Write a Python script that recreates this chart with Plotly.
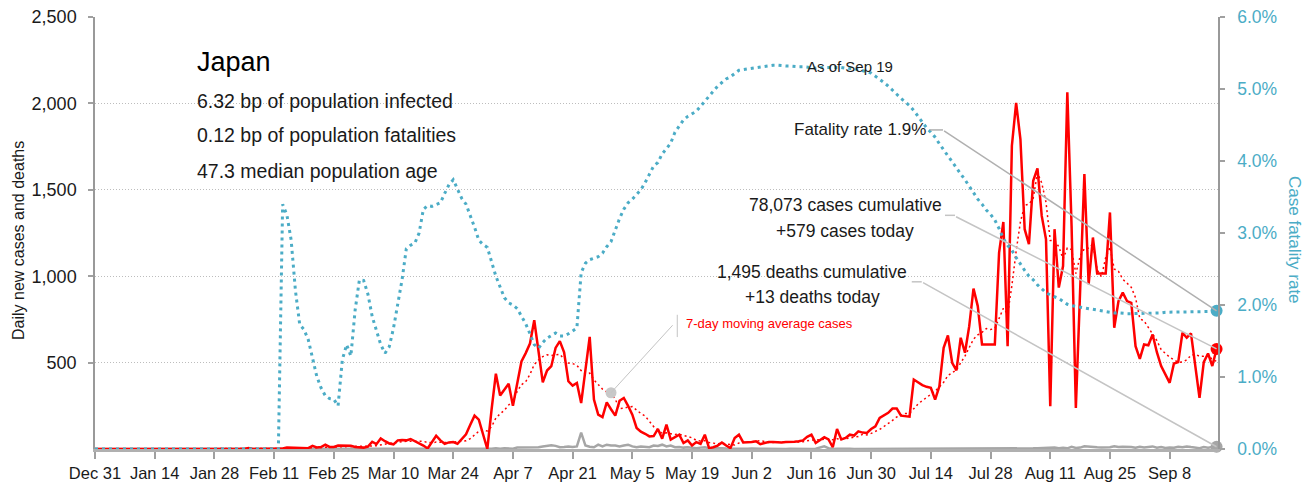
import pandas as pd
import plotly.graph_objects as go

start_date = "2019-12-31"

# ---------------- daily new cases ----------------
cases_dec_jan = [0,
                 0, 0, 0, 0, 0, 0, 0, 0, 0, 0,
                 0, 0, 0, 0, 0, 1, 0, 0, 0, 0,
                 0, 0, 0, 1, 1, 0, 0, 2, 1, 3,
                 4]
cases_feb = [2, 0, 0, 0, 5, 0, 0, 0, 0, 0,
             1, 0, 3, 8, 8, 5, 7, 7, 5, 18,
             9, 11, 25, 12, 12, 20, 20, 21, 19]
cases_mar = [12, 10, 8, 14, 42, 28, 61, 45, 32, 27,
             50, 52, 50, 58, 45, 36, 20, 3, 40, 77,
             50, 30, 38, 40, 30, 60, 85, 140, 193, 170,
             85]
cases_apr = [0, 230, 436, 309, 345, 378, 250, 380, 507, 555,
             610, 745, 560, 386, 454, 479, 585, 624, 560, 392,
             367, 382, 266, 460, 649, 286, 199, 185, 270, 230]
cases_may = [193, 279, 295, 250, 199, 122, 100, 88, 73, 75,
             116, 60, 141, 54, 70, 83, 35, 50, 20, 40,
             30, 83, 5, 10, 20, 38, 20, 5, 64, 83,
             38]
cases_jun = [38, 40, 45, 28, 35, 40, 40, 38, 38, 40,
             40, 42, 45, 50, 70, 83, 35, 50, 68, 55,
             10, 116, 55, 64, 83, 78, 102, 95, 93, 116]
cases_jul = [131, 180, 195, 209, 234, 234, 193, 190, 187, 402,
             385, 370, 360, 354, 286, 363, 586, 657, 499, 455,
             644, 557, 711, 928, 827, 605, 605, 605, 605, 1137,
             1314]
cases_aug = [595, 1755, 2003, 1794, 1272, 1185, 1552, 1624, 1349, 1214,
             247, 1272, 934, 1059, 2065, 1291, 238, 943, 1591, 953,
             1224, 1015, 1015, 1015, 1369, 702, 856, 905, 856, 846,
             595]
cases_sep = [522, 605, 600, 663, 560, 480, 430, 383, 495, 503,
             673, 644, 669, 474, 296, 503, 553, 480, 579]

# ---------------- daily new deaths ----------------
deaths_dec_jan = [0,
                  0, 0, 0, 0, 0, 0, 0, 0, 0, 0,
                  0, 0, 0, 0, 0, 0, 0, 0, 0, 0,
                  0, 0, 0, 0, 0, 0, 0, 0, 0, 0,
                  0]
deaths_feb = [0, 0, 0, 0, 0, 0, 0, 0, 0, 0,
              0, 0, 1, 0, 0, 0, 0, 0, 1, 0,
              0, 0, 0, 0, 1, 0, 1, 0, 1]
deaths_mar = [0, 1, 1, 0, 1, 0, 1, 0, 1, 2,
              2, 1, 0, 3, 2, 0, 3, 1, 3, 2,
              1, 2, 1, 1, 1, 1, 3, 0, 2, 3,
              4]
deaths_apr = [0, 2, 5, 2, 4, 3, 2, 8, 9, 10,
              7, 10, 10, 15, 20, 22, 18, 10, 12, 15,
              12, 15, 95, 20, 13, 10, 25, 15, 25, 20]
deaths_may = [20, 15, 20, 25, 15, 10, 15, 12, 10, 20,
              18, 25, 15, 20, 10, 12, 8, 10, 8, 5,
              8, 10, 5, 6, 5, 4, 3, 2, 5, 2,
              3]
deaths_jun = [2, 3, 0, 1, 2, 1, 1, 2, 1, 0,
              1, 0, 2, 0, 1, 0, 2, 8, 15, 5,
              0, 1, 1, 5, 1, 0, 0, 1, 0, 1]
deaths_jul = [0, 0, 1, 0, 1, 0, 1, 0, 0, 1,
              0, 0, 2, 0, 1, 1, 0, 1, 0, 2,
              0, 1, 0, 0, 1, 0, 0, 0, 1, 0,
              2]
deaths_aug = [1, 0, 0, 4, 4, 1, 4, 5, 6, 3,
              4, 9, 5, 7, 4, 13, 6, 8, 16, 13,
              12, 10, 9, 8, 10, 16, 11, 13, 13, 12,
              7]
deaths_sep = [13, 9, 13, 15, 8, 11, 6, 9, 7, 13,
              10, 15, 11, 9, 5, 11, 8, 11, 13]

# ---------------- case fatality rate (%) ----------------
cfr_dec_jan = [0,
               0, 0, 0, 0, 0, 0, 0, 0, 0, 0,
               0, 0, 0, 0, 0, 0, 0, 0, 0, 0,
               0, 0, 0, 0, 0, 0, 0, 0, 0, 0,
               0]
cfr_feb = [0, 0, 0, 0, 0, 0, 0, 0, 0, 0,
           0, 0, 3.40, 3.25, 2.90, 2.20, 1.73, 1.66, 1.52, 1.25,
           1.01, 0.85, 0.74, 0.70, 0.69, 0.60, 1.24, 1.45, 1.29]
cfr_mar = [1.93, 2.35, 2.34, 2.15, 1.84, 1.65, 1.45, 1.33, 1.42, 1.68,
           2.00, 2.35, 2.78, 2.83, 2.86, 3.00, 3.33, 3.38, 3.37, 3.40,
           3.42, 3.55, 3.67, 3.74, 3.60, 3.48, 3.40, 3.25, 3.08, 2.90,
           2.84]
cfr_apr = [2.80, 2.60, 2.40, 2.25, 2.10, 2.03, 2.00, 1.95, 1.84, 1.74,
           1.60, 1.45, 1.40, 1.48, 1.54, 1.57, 1.61, 1.57, 1.57, 1.60,
           1.64, 1.68, 2.45, 2.58, 2.63, 2.65, 2.67, 2.72, 2.81, 2.88]
cfr_may = [3.05, 3.20, 3.33, 3.42, 3.47, 3.53, 3.60, 3.70, 3.82, 3.93,
           3.98, 4.10, 4.17, 4.25, 4.40, 4.49, 4.57, 4.62, 4.65, 4.69,
           4.76, 4.83, 4.89, 4.97, 5.04, 5.09, 5.14, 5.17, 5.22, 5.26,
           5.27]
cfr_jun = [5.28, 5.29, 5.30, 5.31, 5.32, 5.33, 5.33, 5.33, 5.32, 5.32,
           5.32, 5.31, 5.31, 5.31, 5.30, 5.30, 5.29, 5.30, 5.30, 5.31,
           5.31, 5.30, 5.30, 5.29, 5.29, 5.28, 5.27, 5.26, 5.24, 5.22]
cfr_jul = [5.18, 5.14, 5.09, 5.04, 4.98, 4.92, 4.87, 4.82, 4.77, 4.70,
           4.62, 4.54, 4.46, 4.40, 4.33, 4.24, 4.15, 4.07, 3.99, 3.90,
           3.82, 3.74, 3.65, 3.55, 3.47, 3.40, 3.32, 3.26, 3.18, 3.06,
           2.92]
cfr_aug = [2.83, 2.76, 2.66, 2.56, 2.48, 2.40, 2.35, 2.28, 2.22, 2.17,
           2.14, 2.12, 2.09, 2.05, 2.01, 1.99, 1.98, 1.97, 1.95, 1.94,
           1.93, 1.92, 1.91, 1.90, 1.89, 1.89, 1.89, 1.88, 1.88, 1.88,
           1.88]
cfr_sep = [1.88, 1.89, 1.89, 1.89, 1.89, 1.89, 1.90, 1.90, 1.90, 1.90,
           1.90, 1.90, 1.90, 1.91, 1.91, 1.91, 1.91, 1.91, 1.92]

cases = (cases_dec_jan + cases_feb + cases_mar + cases_apr + cases_may
         + cases_jun + cases_jul + cases_aug + cases_sep)
deaths = (deaths_dec_jan + deaths_feb + deaths_mar + deaths_apr + deaths_may
          + deaths_jun + deaths_jul + deaths_aug + deaths_sep)
cfr = (cfr_dec_jan + cfr_feb + cfr_mar + cfr_apr + cfr_may
       + cfr_jun + cfr_jul + cfr_aug + cfr_sep)

left_ticks = [500, 1000, 1500, 2000, 2500]
right_ticks = [0, 1, 2, 3, 4, 5, 6]
right_ticktext = ["0.0%", "1.0%", "2.0%", "3.0%", "4.0%", "5.0%", "6.0%"]

info_lines = ["6.32 bp of population infected",
              "0.12 bp of population fatalities",
              "47.3 median population age"]
ma_label_date = "2020-04-30"

dates = pd.date_range(start_date, periods=len(cases), freq="D")
ma7 = pd.Series(cases).rolling(7, min_periods=1).mean().tolist()

RED = "#ff0000"
TEAL = "#4bacc6"
GREY = "#a6a6a6"
LEADER = "#c4c4c4"
TXT = "#1a1a1a"
FONT = "Liberation Sans, Arial, sans-serif"

fig = go.Figure()
fig.add_trace(go.Scatter(x=dates, y=cfr, yaxis="y2", mode="lines",
                         line=dict(color=TEAL, width=3, dash="3px,4px")))
fig.add_trace(go.Scatter(x=dates, y=deaths, mode="lines",
                         line=dict(color=GREY, width=2.5)))
fig.add_trace(go.Scatter(x=dates, y=ma7, mode="lines",
                         line=dict(color=RED, width=1.5, dash="2px,3px")))
fig.add_trace(go.Scatter(x=dates, y=cases, mode="lines",
                         line=dict(color=RED, width=2.5)))

# end-point markers
fig.add_trace(go.Scatter(x=[dates[-1]], y=[cfr[-1]], yaxis="y2", mode="markers",
                         marker=dict(color=TEAL, size=12), cliponaxis=False))
fig.add_trace(go.Scatter(x=[dates[-1]], y=[cases[-1]], mode="markers",
                         marker=dict(color=RED, size=12), cliponaxis=False))
fig.add_trace(go.Scatter(x=[dates[-1]], y=[deaths[-1]], mode="markers",
                         marker=dict(color=GREY, size=12), cliponaxis=False))
ma_idx = dates.get_loc(pd.Timestamp(ma_label_date))
fig.add_trace(go.Scatter(x=[dates[ma_idx]], y=[ma7[ma_idx]], mode="markers",
                         marker=dict(color="#c8c8c8", size=11), cliponaxis=False))

ann = []
# title block
ann.append(dict(xref="paper", yref="paper", x=0.089, y=0.896, xanchor="left", yanchor="middle",
                text="Japan", showarrow=False, font=dict(size=27, color="#000")))
for i, yy in enumerate([0.8057, 0.727, 0.644]):
    ann.append(dict(xref="paper", yref="paper", x=0.089, y=yy, xanchor="left", yanchor="middle",
                    text=info_lines[i], showarrow=False, font=dict(size=19.5, color=TXT)))
ann.append(dict(xref="paper", yref="paper", x=0.6723, y=0.8843, xanchor="center", yanchor="middle",
                text="As of Sep 19", showarrow=False, font=dict(size=15, color=TXT)))
ann.append(dict(xref="paper", yref="paper", x=0.7417, y=0.7386, xanchor="right", yanchor="middle",
                text="Fatality rate 1.9%", showarrow=False, font=dict(size=17, color=TXT)))
ann.append(dict(xref="paper", yref="paper", x=0.668, y=0.565, xanchor="center", yanchor="middle",
                text="78,073 cases cumulative", showarrow=False, font=dict(size=17.5, color=TXT)))
ann.append(dict(xref="paper", yref="paper", x=0.668, y=0.505, xanchor="center", yanchor="middle",
                text="+579 cases today", showarrow=False, font=dict(size=17.5, color=TXT)))
ann.append(dict(xref="paper", yref="paper", x=0.6385, y=0.410, xanchor="center", yanchor="middle",
                text="1,495 deaths cumulative", showarrow=False, font=dict(size=17.5, color=TXT)))
ann.append(dict(xref="paper", yref="paper", x=0.6385, y=0.352, xanchor="center", yanchor="middle",
                text="+13 deaths today", showarrow=False, font=dict(size=17.5, color=TXT)))
ann.append(dict(xref="paper", yref="paper", x=0.5245, y=0.2898, xanchor="left", yanchor="middle",
                text="7-day moving average cases", showarrow=False, font=dict(size=13, color=RED)))
# axis titles
ann.append(dict(xref="paper", yref="paper", x=-0.0686, y=0.4837, xanchor="center", yanchor="middle",
                text="Daily new cases and deaths", textangle=-90, showarrow=False,
                font=dict(size=16, color=TXT)))
ann.append(dict(xref="paper", yref="paper", x=1.0686, y=0.4837, xanchor="center", yanchor="middle",
                text="Case fatality rate", textangle=90, showarrow=False,
                font=dict(size=17, color=TEAL)))
# leader lines (pixel offsets from the data end points)
ann.append(dict(x=dates[-1], y=cfr[-1], xref="x", yref="y2", text="", showarrow=True,
                arrowhead=0, arrowwidth=1.5, arrowcolor="#b0b0b0", ax=-274, ay=-181,
                standoff=0, startstandoff=0))
ann.append(dict(x=dates[-1], y=cases[-1], xref="x", yref="y", text="", showarrow=True,
                arrowhead=0, arrowwidth=1.5, arrowcolor=LEADER, ax=-262, ay=-133,
                standoff=0, startstandoff=0))
ann.append(dict(x=dates[-1], y=deaths[-1], xref="x", yref="y", text="", showarrow=True,
                arrowhead=0, arrowwidth=1.5, arrowcolor=LEADER, ax=-295, ay=-165,
                standoff=0, startstandoff=0))
ann.append(dict(x=dates[ma_idx], y=ma7[ma_idx], xref="x", yref="y", text="", showarrow=True,
                arrowhead=0, arrowwidth=1, arrowcolor=LEADER, ax=63, ay=-69,
                standoff=0, startstandoff=0))

shapes = [
    dict(type="line", xref="paper", yref="paper", x0=0.7435, x1=0.7551, y0=0.7386, y1=0.7386,
         line=dict(color="#b0b0b0", width=1.5)),
    dict(type="line", xref="paper", yref="paper", x0=0.7569, x1=0.7658, y0=0.5409, y1=0.5409,
         line=dict(color=LEADER, width=1.5)),
    dict(type="line", xref="paper", yref="paper", x0=0.7273, x1=0.7362, y0=0.387, y1=0.387,
         line=dict(color=LEADER, width=1.5)),
    dict(type="line", xref="paper", yref="paper", x0=0.5185, x1=0.5185, y0=0.3107, y1=0.2591,
         line=dict(color=LEADER, width=1)),
]

# the page body adds an 8px offset, so the figure is 8px smaller and margins shifted
fig.update_layout(
    width=1304, height=483,
    margin=dict(l=87, r=94, t=9, b=42, autoexpand=False),
    paper_bgcolor="white", plot_bgcolor="white",
    showlegend=False,
    font=dict(family=FONT, size=17, color=TXT),
    annotations=ann,
    shapes=shapes,
    xaxis=dict(type="date", range=["2019-12-31", "2020-09-19 08:00"],
               tick0="2019-12-31", dtick=14 * 86400000, tickformat="%b %-d",
               tickangle=0, automargin=False, ticklabeloverflow="allow",
               ticks="outside", ticklen=7, tickwidth=1.5, tickcolor="#a0a0a0",
               showline=True, linecolor="#b0b0b0", linewidth=2.5,
               showgrid=False, zeroline=False,
               tickfont=dict(size=16.5, color=TXT)),
    yaxis=dict(range=[0, 2500], tickvals=left_ticks, tickformat=",",
               automargin=False, ticklabelstandoff=8, ticklabeloverflow="allow",
               ticks="outside", ticklen=5, tickwidth=1.5, tickcolor="#a0a0a0",
               showline=True, linecolor="#999999", linewidth=1.5,
               showgrid=True, gridcolor="#bdbdbd", gridwidth=1, griddash="1px,2px",
               zeroline=False, tickfont=dict(size=18, color=TXT)),
    yaxis2=dict(range=[0, 6], overlaying="y", side="right", automargin=False,
                ticklabelstandoff=9, ticklabeloverflow="allow",
                tickvals=right_ticks, ticktext=right_ticktext,
                ticks="outside", ticklen=5, tickwidth=1.5, tickcolor="#a0a0a0",
                showline=True, linecolor="#999999", linewidth=1.5,
                showgrid=False, zeroline=False,
                tickfont=dict(size=17.5, color=TEAL)),
)

fig.write_html("out.html")
